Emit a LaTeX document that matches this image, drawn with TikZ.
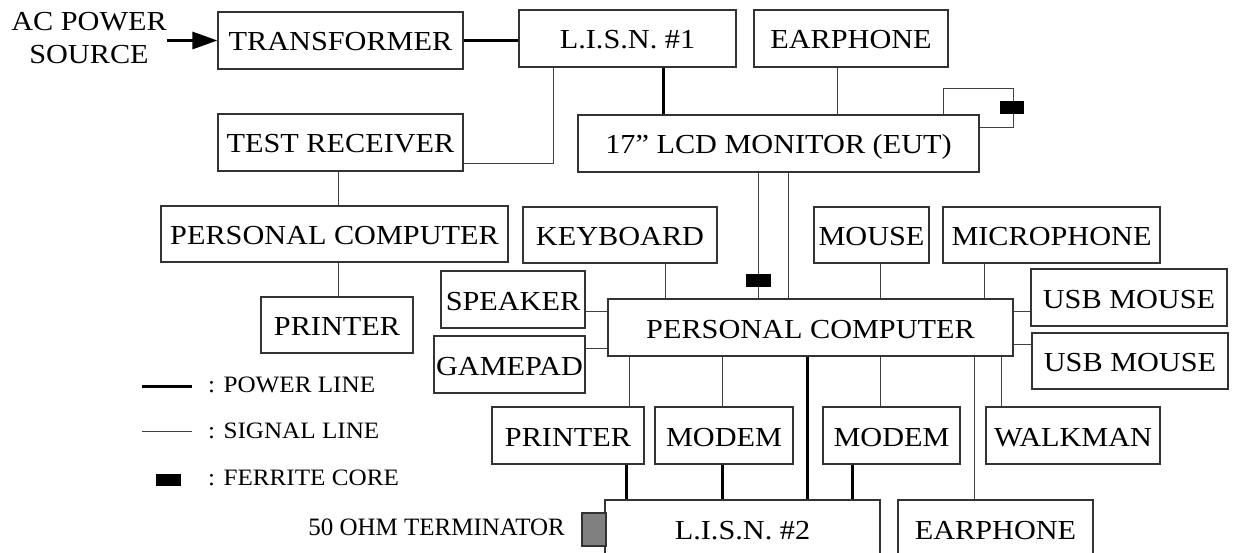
\documentclass[tikz,border=0pt]{standalone}
\usepackage{fontspec}
\usepackage{graphicx}
\setmainfont{Liberation Serif}
\usetikzlibrary{arrows.meta}
\newcommand\sx[1]{\scalebox{1.1}[1]{#1}}
\newcommand\slgd[1]{\scalebox{1.07}[1]{#1}}
\tikzset{
  box/.style={draw=black!80, line width=1.2pt, inner sep=0pt,
    font=\fontsize{27.5}{33}\selectfont, text height=21pt, text depth=0pt},
  sig/.style={draw=black!75, line width=1pt},
  pwr/.style={draw=black, line width=3pt},
  ferrite/.style={fill=black, draw=none, inner sep=0pt},
  lgd/.style={inner sep=0pt, anchor=west, font=\fontsize{23.5}{26}\selectfont},
}
\begin{document}
\begin{tikzpicture}[x=1pt,y=-1pt]
\useasboundingbox (0,0) rectangle (1233,553);
\clip (0,0) rectangle (1233,553);
% boxes
\node[box, minimum width=245pt, minimum height=57pt] (tr) at (340.5,40.5) {\sx{TRANSFORMER}};
\node[box, minimum width=217pt, minimum height=57pt] (lisn1) at (627.5,38.5) {\sx{L.I.S.N. \#1}};
\node[box, minimum width=194pt, minimum height=57pt] (ear1) at (851,38.5) {\sx{EARPHONE}};
\node[box, minimum width=245pt, minimum height=57pt] (trx) at (340.5,142.5) {\sx{TEST RECEIVER}};
\node[box, minimum width=401pt, minimum height=57pt] (lcd) at (778.5,143.5) {\sx{17” LCD MONITOR (EUT)}};
\node[box, minimum width=347pt, minimum height=56pt] (pc1) at (334.5,234) {\sx{PERSONAL COMPUTER}};
\node[box, minimum width=194pt, minimum height=56pt] (kb) at (620,235) {\sx{KEYBOARD}};
\node[box, minimum width=115pt, minimum height=56pt] (mouse) at (871.5,235) {\sx{MOUSE}};
\node[box, minimum width=217pt, minimum height=56pt] (mic) at (1051.5,235) {\sx{MICROPHONE}};
\node[box, minimum width=152pt, minimum height=56pt] (prn1) at (337,325) {\sx{PRINTER}};
\node[box, minimum width=144pt, minimum height=57pt] (spk) at (513,299.5) {\sx{SPEAKER}};
\node[box, minimum width=151pt, minimum height=57pt] (gp) at (509.5,364.5) {\sx{GAMEPAD}};
\node[box, minimum width=405pt, minimum height=57pt] (pc2) at (810.5,327.5) {\sx{PERSONAL COMPUTER}};
\node[box, minimum width=196pt, minimum height=57pt] (usb1) at (1129,297.5) {\sx{USB MOUSE}};
\node[box, minimum width=196pt, minimum height=56pt] (usb2) at (1130,361) {\sx{USB MOUSE}};
\node[box, minimum width=152pt, minimum height=57pt] (prn2) at (568,435.5) {\sx{PRINTER}};
\node[box, minimum width=138pt, minimum height=57pt] (modem1) at (724,435.5) {\sx{MODEM}};
\node[box, minimum width=137pt, minimum height=57pt] (modem2) at (891.5,435.5) {\sx{MODEM}};
\node[box, minimum width=174pt, minimum height=57pt] (walk) at (1073,435.5) {\sx{WALKMAN}};
\node[box, minimum width=275pt, minimum height=57pt] (lisn2) at (742.5,528.5) {\sx{L.I.S.N. \#2}};
\node[box, minimum width=195pt, minimum height=57pt] (ear2) at (995.5,528.5) {\sx{EARPHONE}};
\node[draw=black!80, line width=1.2pt, fill=black!50, inner sep=0pt, minimum width=24pt, minimum height=33pt] (term) at (594,529.5) {};
% source text
\node[inner sep=0pt, align=center, font=\fontsize{27.5}{33}\selectfont] (ac) at (89,38) {\sx{AC POWER}\\\sx{SOURCE}};
% power lines
\draw[pwr, -{Triangle[length=25pt,width=17pt]}] (ac.east |- tr.west) -- (tr.west);
\draw[pwr] (tr.east) -- (tr.east -| lisn1.west);
\draw[pwr] (lisn1.south -| 663,0) -- (lcd.north -| 663,0);
\draw[pwr] (pc2.south -| 807,0) -- (lisn2.north -| 807,0);
\draw[pwr] (prn2.south -| 626.5,0) -- (lisn2.north -| 626.5,0);
\draw[pwr] (modem1.south -| 722.7,0) -- (lisn2.north -| 722.7,0);
\draw[pwr] (modem2.south -| 852,0) -- (lisn2.north -| 852,0);
% signal lines
\draw[sig] (lisn1.south -| 553,0) |- (trx.east |- 0,164);
\draw[sig] (ear1.south -| 837,0) -- (lcd.north -| 837,0);
\draw[sig] (lcd.north -| 943,0) |- (1013,89) |- (lcd.east |- 0,128);
\draw[sig] (trx.south -| 338,0) -- (pc1.north -| 338,0);
\draw[sig] (pc1.south -| 338,0) -- (prn1.north -| 338,0);
\draw[sig] (lcd.south -| 758,0) -- (pc2.north -| 758,0);
\draw[sig] (lcd.south -| 788,0) -- (pc2.north -| 788,0);
\draw[sig] (kb.south -| 665.6,0) -- (pc2.north -| 665.6,0);
\draw[sig] (mouse.south -| 880,0) -- (pc2.north -| 880,0);
\draw[sig] (mic.south -| 984,0) -- (pc2.north -| 984,0);
\draw[sig] (spk.east |- 0,311) -- (pc2.west |- 0,311);
\draw[sig] (gp.east |- 0,348) -- (pc2.west |- 0,348);
\draw[sig] (pc2.east |- 0,311) -- (usb1.west |- 0,311);
\draw[sig] (pc2.east |- 0,344) -- (usb2.west |- 0,344);
\draw[sig] (pc2.south -| 629,0) -- (prn2.north -| 629,0);
\draw[sig] (pc2.south -| 722,0) -- (modem1.north -| 722,0);
\draw[sig] (pc2.south -| 880,0) -- (modem2.north -| 880,0);
\draw[sig] (pc2.south -| 974,0) -- (ear2.north -| 974,0);
\draw[sig] (pc2.south -| 1001,0) -- (walk.north -| 1001,0);
% ferrite cores
\node[ferrite, minimum width=24pt, minimum height=13pt] (f1) at (1012,107.5) {};
\node[ferrite, minimum width=25pt, minimum height=13pt] (f2) at (758.5,280.5) {};
% legend
\coordinate (lp1) at (142,386); \coordinate (lp2) at (192,386);
\draw[pwr] (lp1) -- (lp2);
\coordinate (ls1) at (142,431); \coordinate (ls2) at (192,431);
\draw[sig] (ls1) -- (ls2);
\node[ferrite, minimum width=25pt, minimum height=12pt] (lf) at (168.5,480) {};
\node[lgd] (lgp) at (208,385) {\slgd{: POWER LINE}};
\node[lgd] (lgs) at (208,430.5) {\slgd{: SIGNAL LINE}};
\node[lgd] (lgf) at (208,478) {\slgd{: FERRITE CORE}};
\node[inner sep=0pt, anchor=east, font=\fontsize{25}{28}\selectfont] (termlbl) at (565,527) {50 OHM TERMINATOR};
\end{tikzpicture}
\end{document}
